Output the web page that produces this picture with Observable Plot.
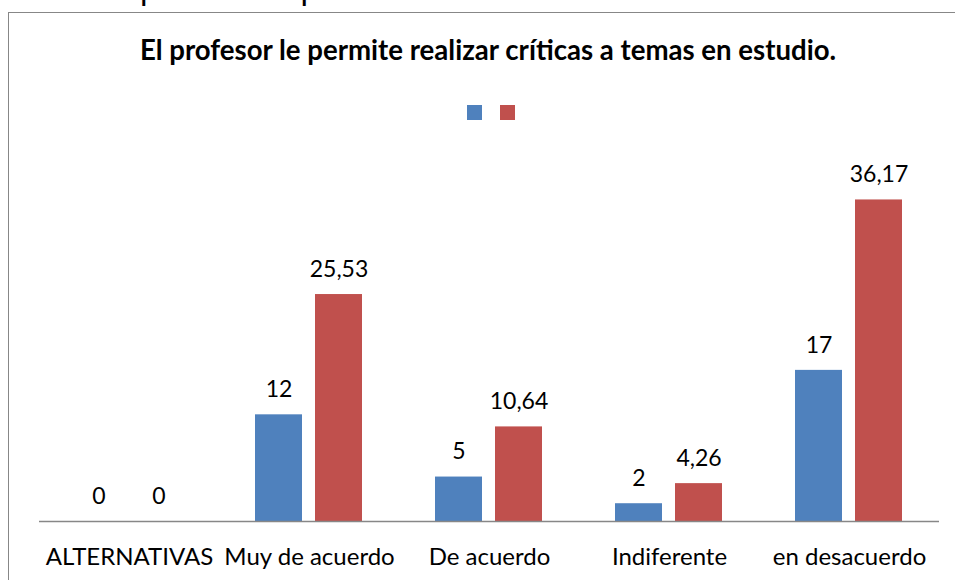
<!DOCTYPE html>
<html>
<head>
<meta charset="utf-8">
<script src="https://cdn.jsdelivr.net/npm/d3@7"></script>
<script src="https://cdn.jsdelivr.net/npm/@observablehq/plot@0.6"></script>
<style>
  body { margin: 0; background: #fff; }
  #wrap { position: relative; width: 955px; height: 580px; overflow: hidden; background: #fff;
          font-family: Lato, "Open Sans", sans-serif; color: #000; }
  #toptext { position: absolute; left: 140px; top: -31.6px; font-size: 32.5px; white-space: nowrap; }
  #frame { position: absolute; left: 8px; top: 12px; width: 1000px; height: 1000px; border: 1px solid #878787; box-sizing: border-box; }
  #title { position: absolute; left: 0; top: 33px; width: 976px; text-align: center; font-weight: bold; font-size: 27.6px; white-space: nowrap; }
  #legend { position: absolute; top: 105px; left: 0; width: 955px; height: 15px; }
  #legend span { position: absolute; top: 0; width: 15px; height: 15px; }
  #chart { position: absolute; left: 0; top: 0; }
</style>
</head>
<body>
<div id="wrap">
  <div id="toptext">profesor le permite realizar críticas a temas en estudio</div>
  <div id="frame"></div>
  <div id="title"></div>
  <div id="legend"></div>
  <div id="chart"></div>
</div>
<script>
const titleText = "El profesor le permite realizar críticas a temas en estudio.";
const categories = ["ALTERNATIVAS", "Muy de acuerdo", "De acuerdo", "Indiferente", "en desacuerdo"];
const seriesNames = ["Serie 1", "Serie 2"];
const series1 = [0, 12, 5, 2, 17];
const series2 = [0, 25.53, 10.64, 4.26, 36.17];
const colors = ["#4F81BD", "#C0504D"];

document.getElementById("title").textContent = titleText;
const legend = document.getElementById("legend");
colors.forEach((c, i) => {
  const s = document.createElement("span");
  s.style.background = c;
  s.style.left = (467 + i * 33) + "px";
  legend.appendChild(s);
});

const data = [];
categories.forEach((cat, i) => {
  data.push({cat, series: seriesNames[0], value: series1[i]});
  data.push({cat, series: seriesNames[1], value: series2[i]});
});
const fmt = v => String(v).replace(".", ",");

const chart = Plot.plot({
  width: 955,
  height: 580,
  marginTop: 165.4,
  marginBottom: 59,
  marginLeft: 38,
  marginRight: 15,
  style: { fontFamily: "Lato, 'Open Sans', sans-serif", fontSize: "24px", color: "#000", background: "transparent", overflow: "visible" },
  fx: { domain: categories, padding: 0, label: null, tickSize: 0, tickPadding: 26 },
  x: { domain: seriesNames, paddingInner: 0.209, paddingOuter: 0.593, axis: null },
  y: { domain: [0, 40], axis: null },
  color: { domain: seriesNames, range: colors },
  marks: [
    Plot.barY(data, { fx: "cat", x: "series", y: "value", fill: "series" }),
    Plot.text(data, { fx: "cat", x: "series", y: "value", text: d => fmt(d.value), dy: -25, lineAnchor: "middle", fill: "#000", fontSize: 23 }),
    Plot.ruleY([0], { stroke: "#878787", strokeWidth: 1.5 })
  ]
});
document.getElementById("chart").appendChild(chart);
</script>
</body>
</html>
